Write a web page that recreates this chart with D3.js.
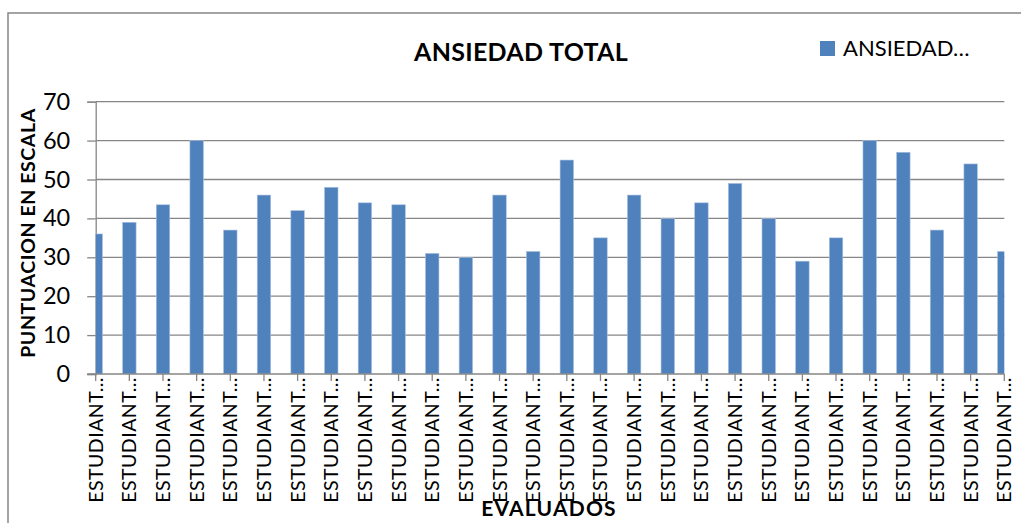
<!DOCTYPE html>
<html>
<head>
<meta charset="utf-8">
<script src="https://cdn.jsdelivr.net/npm/d3@7/dist/d3.min.js"></script>
<style>
  html, body { margin: 0; padding: 0; background: #fff; }
  svg { display: block; font-family: Lato, "Open Sans", sans-serif; }
</style>
</head>
<body>
<svg id="chart" width="1021" height="523"></svg>
<script>
// Data
const categories = [
  "ESTUDIANTE 1", "ESTUDIANTE 2", "ESTUDIANTE 3", "ESTUDIANTE 4",
  "ESTUDIANTE 5", "ESTUDIANTE 6", "ESTUDIANTE 7", "ESTUDIANTE 8",
  "ESTUDIANTE 9", "ESTUDIANTE 10", "ESTUDIANTE 11", "ESTUDIANTE 12",
  "ESTUDIANTE 13", "ESTUDIANTE 14", "ESTUDIANTE 15", "ESTUDIANTE 16",
  "ESTUDIANTE 17", "ESTUDIANTE 18", "ESTUDIANTE 19", "ESTUDIANTE 20",
  "ESTUDIANTE 21", "ESTUDIANTE 22", "ESTUDIANTE 23", "ESTUDIANTE 24",
  "ESTUDIANTE 25", "ESTUDIANTE 26", "ESTUDIANTE 27", "ESTUDIANTE 28",
];
const ansiedad = [
  36, 39, 43.5, 60, 37, 46, 42, 48, 44, 43.5, 31, 30, 46, 31.5,
  55, 35, 46, 40, 44, 49, 40, 29, 35, 60, 57, 37, 54, 31.5,
];
const yTicks = [0, 10, 20, 30, 40, 50, 60, 70];
const seriesName = "ANSIEDAD TOTAL";

const BAR = "#4f81bd";
const GRID = "#868686";

const svg = d3.select("#chart");
const W = 1021, H = 523;

// plot area (x axis runs from centre of first bar to centre of last bar)
const plotL = 95.7, plotR = 1004.3, plotT = 101.7, plotB = 374;
const step = (plotR - plotL) / (categories.length - 1);

const x = d3
  .scaleBand()
  .domain(categories)
  .range([plotL - step / 2, plotR + step / 2])
  .paddingInner(0.6)
  .paddingOuter(0.3);

const y = d3.scaleLinear().domain([0, 70]).range([plotB, plotT]);

// chart border
svg
  .append("rect")
  .attr("x", 8)
  .attr("y", 13)
  .attr("width", W + 20)
  .attr("height", H + 20)
  .attr("fill", "#fff")
  .attr("stroke", GRID)
  .attr("stroke-width", 1.5);

// gridlines + y axis ticks
const yAxis = svg
  .append("g")
  .attr("transform", `translate(${plotL},0)`)
  .call(
    d3.axisLeft(y).tickValues(yTicks).tickSize(8.5).tickPadding(17)
  );
yAxis.select(".domain").attr("stroke", GRID).attr("stroke-width", 1.3);
yAxis.selectAll(".tick line").attr("stroke", GRID).attr("stroke-width", 1.3);
yAxis
  .selectAll(".tick text")
  .attr("font-family", "Lato, sans-serif")
  .attr("font-size", 23.5)
  .attr("fill", "#000");

svg
  .append("g")
  .selectAll("line")
  .data(yTicks.filter((d) => d > 0))
  .join("line")
  .attr("x1", plotL)
  .attr("x2", plotR)
  .attr("y1", (d) => y(d))
  .attr("y2", (d) => y(d))
  .attr("stroke", GRID)
  .attr("stroke-width", 1.3);

// bars, clipped to the plot area
svg
  .append("clipPath")
  .attr("id", "plot-clip")
  .append("rect")
  .attr("x", plotL)
  .attr("y", plotT - 5)
  .attr("width", plotR - plotL)
  .attr("height", plotB - plotT + 5);

svg
  .append("g")
  .attr("clip-path", "url(#plot-clip)")
  .selectAll("rect")
  .data(ansiedad)
  .join("rect")
  .attr("x", (d, i) => x(categories[i]))
  .attr("y", (d) => y(d))
  .attr("width", x.bandwidth())
  .attr("height", (d) => plotB - y(d))
  .attr("fill", BAR)
  .attr("stroke", "#a9c1e0")
  .attr("stroke-width", 0.6);

// x axis
const xAxis = svg
  .append("g")
  .attr("transform", `translate(0,${plotB})`)
  .call(d3.axisBottom(x).tickSize(7).tickFormat(() => ""));
xAxis.select(".domain").remove();
xAxis.selectAll(".tick line").attr("stroke", GRID).attr("stroke-width", 1.3);
svg
  .append("line")
  .attr("x1", plotL - 8.5)
  .attr("x2", plotR)
  .attr("y1", plotB)
  .attr("y2", plotB)
  .attr("stroke", GRID)
  .attr("stroke-width", 1.3);

// rotated, truncated category labels
svg
  .append("g")
  .selectAll("text")
  .data(categories)
  .join("text")
  .attr(
    "transform",
    (d) => `translate(${x(d) + x.bandwidth() / 2 + 7},${plotB + 3}) rotate(-90)`
  )
  .attr("text-anchor", "end")
  .attr("font-size", 19.5)
  .attr("letter-spacing", 0.5)
  .attr("fill", "#000")
  .text((d) => d.slice(0, 9) + "…");

// title
svg
  .append("text")
  .attr("x", 521)
  .attr("y", 61)
  .attr("text-anchor", "middle")
  .attr("font-size", 25)
  .attr("font-weight", 700)
  .attr("letter-spacing", 0.3)
  .attr("fill", "#000")
  .text(seriesName);

// legend
svg
  .append("rect")
  .attr("x", 820)
  .attr("y", 41)
  .attr("width", 15)
  .attr("height", 15)
  .attr("fill", BAR);
svg
  .append("text")
  .attr("x", 843)
  .attr("y", 56)
  .attr("font-size", 22)
  .attr("fill", "#000")
  .text(seriesName.slice(0, 8) + "…");

// axis titles
svg
  .append("text")
  .attr("transform", "translate(35,233) rotate(-90)")
  .attr("text-anchor", "middle")
  .attr("font-size", 19.5)
  .attr("font-weight", 700)
  .attr("letter-spacing", 0.6)
  .attr("fill", "#000")
  .text("PUNTUACION EN ESCALA");

svg
  .append("text")
  .attr("x", 549)
  .attr("y", 516)
  .attr("text-anchor", "middle")
  .attr("font-size", 21)
  .attr("font-weight", 700)
  .attr("letter-spacing", 1.2)
  .attr("fill", "#000")
  .text("EVALUADOS");
</script>
</body>
</html>
